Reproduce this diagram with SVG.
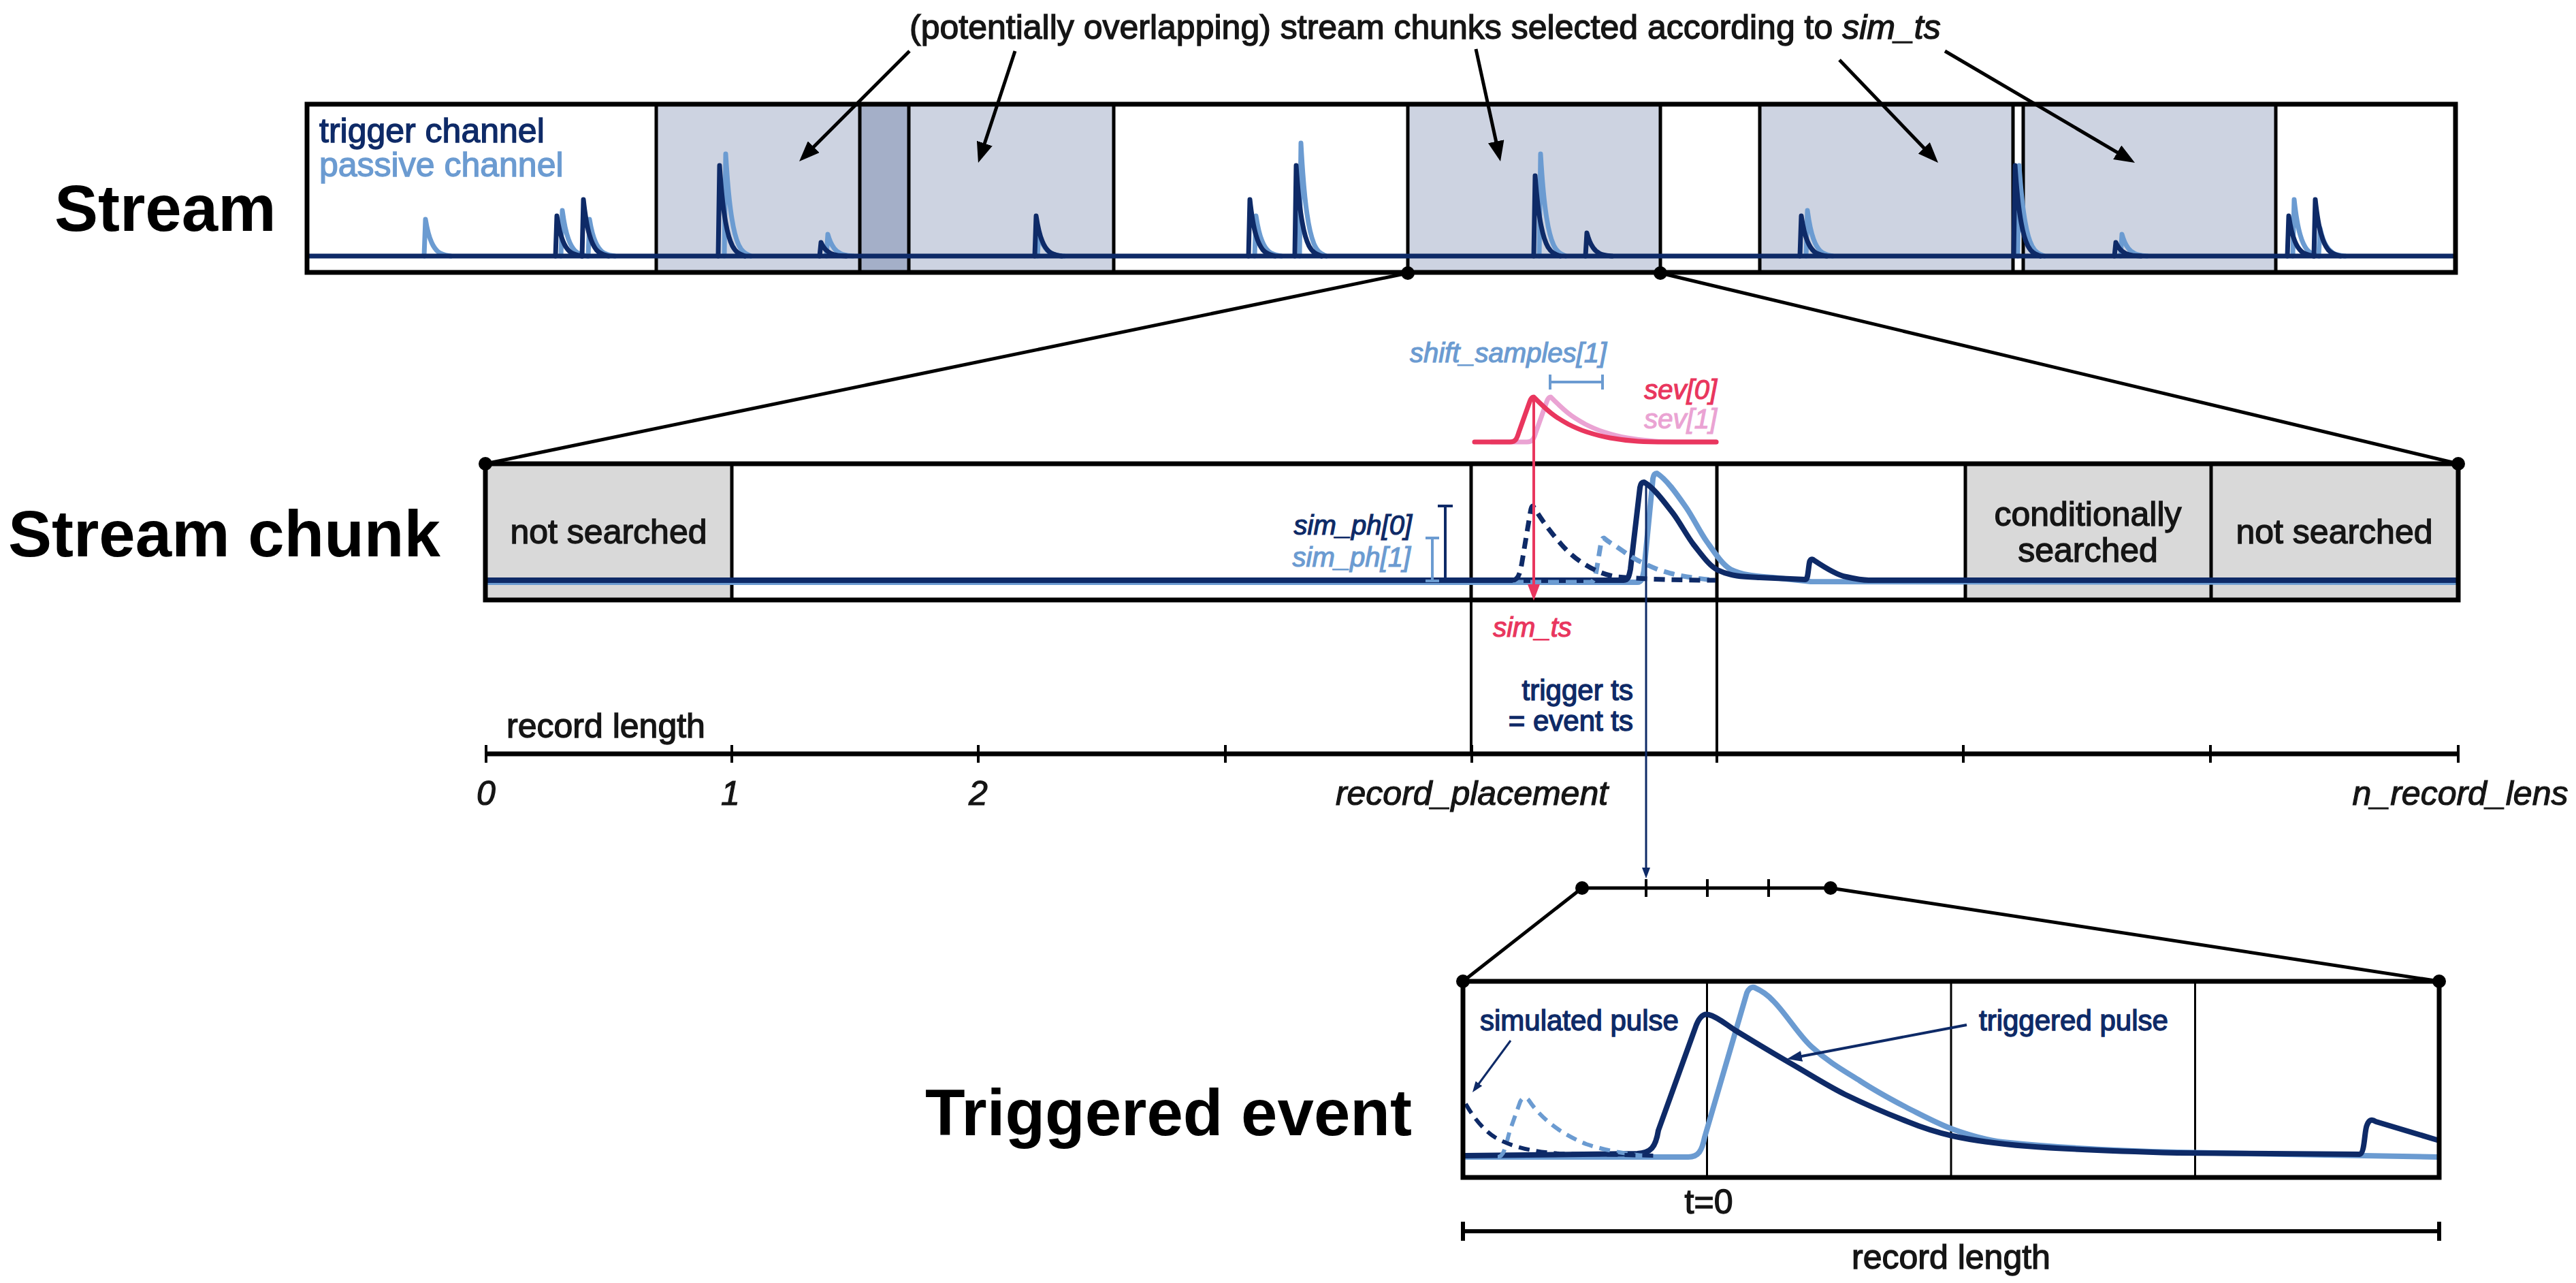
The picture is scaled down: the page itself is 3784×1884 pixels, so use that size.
<svg xmlns="http://www.w3.org/2000/svg" width="3784" height="1884" viewBox="0 0 3784 1884">
<style>
text{font-family:"Liberation Sans",Arial,Helvetica,sans-serif}
.ttl{font-size:96px;font-weight:bold;fill:#000}
.lbl{font-size:50px;fill:#151515;stroke:#151515;stroke-width:1.4px;paint-order:stroke}
.it{font-style:italic;font-size:40px;stroke-width:1.2px;paint-order:stroke}
.tl{font-size:50px}
.m42{font-size:42px}
.nv{fill:#0E2A67;stroke:#0E2A67}
.lbt{fill:#6B9BD1;stroke:#6B9BD1}
.rdt{fill:#E9365E;stroke:#E9365E}
.pkt{fill:#EAA3D3;stroke:#EAA3D3}
.box{fill:none;stroke:#000;stroke-width:7}
.dv{fill:none;stroke:#000;stroke-width:5}
.dv3{fill:none;stroke:#000;stroke-width:3}
.sig{fill:none;stroke-linejoin:round;stroke-linecap:round}
.sn{stroke:#0E2A67}
.sl{stroke:#6B9BD1}
.s7{stroke-width:7}
.s8{stroke-width:8}
.dash{stroke-dasharray:16 10;stroke-linecap:butt}
.con{stroke:#000;stroke-width:5;fill:none}
.dot{fill:#000}
.shade{fill:#CDD3E1}
.gray{fill:#D9D9D9}
</style>
<defs>
<marker id="ahK" markerUnits="userSpaceOnUse" markerWidth="30" markerHeight="24" refX="4" refY="12" orient="auto"><path d="M0,0 L30,12 L0,24 z" fill="#000"/></marker>
<marker id="ahR" markerUnits="userSpaceOnUse" markerWidth="24" markerHeight="18" refX="4" refY="9" orient="auto"><path d="M0,0 L24,9 L0,18 z" fill="#E9365E"/></marker>
<marker id="ahN" markerUnits="userSpaceOnUse" markerWidth="16" markerHeight="12" refX="3" refY="6" orient="auto"><path d="M0,0 L16,6 L0,12 z" fill="#0E2A67"/></marker>
<marker id="ahNL" markerUnits="userSpaceOnUse" markerWidth="22" markerHeight="16" refX="4" refY="8" orient="auto"><path d="M0,0 L22,8 L0,16 z" fill="#0E2A67"/></marker>
<path id="p166" d="M-3,0 L-1,-166 C2,-110.7 5,-81.3 8,-61.4 C11.5,-36.5 15,-25.7 18,-18.3 C24,-4.3 30,-3.3 36,0"/>
<path id="p150" d="M-3,0 L-1,-150 C2,-100 5,-73.5 8,-55.5 C11.5,-33 15,-23.3 18,-16.5 C24,-3.9 30,-3 36,0"/>
<path id="p133" d="M-3,0 L-1,-133 C2,-88.7 5,-65.2 8,-49.2 C11.5,-29.3 15,-20.6 18,-14.6 C24,-3.5 30,-2.7 36,0"/>
<path id="p118" d="M-3,0 L-1,-118 C2,-78.7 5,-57.8 8,-43.7 C11.5,-26 15,-18.3 18,-13 C24,-3.1 30,-2.4 36,0"/>
<path id="p83" d="M-3,0 L-1,-83 C2,-55.4 5,-40.7 8,-30.7 C11.5,-18.3 15,-12.9 18,-9.1 C24,-2.2 30,-1.7 36,0"/>
<path id="p67" d="M-3,0 L-1,-67 C2,-44.7 5,-32.8 8,-24.8 C11.5,-14.7 15,-10.4 18,-7.4 C24,-1.7 30,-1.3 36,0"/>
<path id="p59" d="M-3,0 L-1,-59 C2,-39.4 5,-28.9 8,-21.8 C11.5,-13 15,-9.1 18,-6.5 C24,-1.5 30,-1.2 36,0"/>
<path id="p54" d="M-3,0 L-1,-54 C2,-36 5,-26.5 8,-20 C11.5,-11.9 15,-8.4 18,-5.9 C24,-1.4 30,-1.1 36,0"/>
<path id="p41" d="M-3,0 L-1,-41 C2,-27.3 5,-20.1 8,-15.2 C11.5,-9 15,-6.4 18,-4.5 C24,-1.1 30,-0.8 36,0"/>
<path id="p34" d="M-3,0 L-1,-34 C2,-22.7 5,-16.7 8,-12.6 C11.5,-7.5 15,-5.3 18,-3.7 C24,-0.9 30,-0.7 36,0"/>
<path id="p32" d="M-3,0 L-1,-32 C2,-21.3 5,-15.7 8,-11.8 C11.5,-7 15,-5 18,-3.5 C24,-0.8 30,-0.6 36,0"/>
<path id="p20" d="M-3,0 L-1,-20 C2,-13.3 5,-9.8 8,-7.4 C11.5,-4.4 15,-3.1 18,-2.2 C24,-0.5 30,-0.4 36,0"/>
</defs>
<rect width="3784" height="1884" fill="#fff"/>

<g id="titles">
<text class="ttl" x="80" y="339">Stream</text>
<text class="ttl" x="12" y="817">Stream chunk</text>
<text class="ttl" x="1359" y="1667">Triggered event</text>
<text class="lbl" x="1336" y="57">(potentially overlapping) stream chunks selected according to <tspan font-style="italic">sim_ts</tspan></text>
</g>

<g id="stream">
<rect class="shade" x="964" y="153" width="299" height="247"/>
<rect x="1263" y="153" width="72" height="247" fill="#A4AFC8"/>
<rect class="shade" x="1335" y="153" width="301" height="247"/>
<rect class="shade" x="2068" y="153" width="371" height="247"/>
<rect class="shade" x="2585" y="153" width="372" height="247"/>
<rect class="shade" x="2972" y="153" width="371" height="247"/>
<path class="dv" d="M964 153V400M1263 153V400M1335 153V400M1636 153V400M2068 153V400M2439 153V400M2585 153V400M2957 153V400M2972 153V400M3343 153V400"/>
<g class="sig sl s7">
<use href="#p54" x="626" y="376"/><use href="#p67" x="827" y="376"/><use href="#p54" x="867" y="376"/>
<use href="#p150" x="1067" y="376"/><use href="#p32" x="1217" y="376"/><use href="#p34" x="1527" y="376"/>
<use href="#p59" x="1846" y="376"/><use href="#p166" x="1912" y="376"/><use href="#p150" x="2264" y="376"/>
<use href="#p67" x="2656" y="376"/><use href="#p133" x="2967" y="376"/><use href="#p32" x="3118" y="376"/>
<use href="#p83" x="3371" y="376"/><use href="#p41" x="3409" y="376"/>
</g>
<path class="sig sn s7" d="M454 376H3603"/>
<g class="sig sn s7">
<use href="#p59" x="819" y="376"/><use href="#p83" x="858" y="376"/><use href="#p133" x="1058" y="376"/>
<use href="#p20" x="1207" y="376"/><use href="#p59" x="1523" y="376"/><use href="#p83" x="1837" y="376"/>
<use href="#p133" x="1905" y="376"/><use href="#p118" x="2256" y="376"/><use href="#p34" x="2332" y="376"/>
<use href="#p59" x="2647" y="376"/><use href="#p133" x="2961" y="376"/><use href="#p20" x="3109" y="376"/>
<use href="#p59" x="3363" y="376"/><use href="#p83" x="3402" y="376"/>
</g>
<rect class="box" x="451" y="153" width="3156" height="247"/>
<text class="lbl nv" x="469" y="209">trigger channel</text>
<text class="lbl lbt" x="469" y="259">passive channel</text>
</g>

<g id="sev">
<path class="sig s7" stroke="#EAA3D3" d="M2191,649 L2243,649 C2251,649 2253,645 2256,635 L2272,590 C2274,584 2276,583 2278,583 C2287,592 2295,600 2304,607 C2312,613.5 2321,618.6 2329,623 C2338,627.6 2346,631.1 2355,634 C2367,637.9 2378,640.9 2390,643 C2404,645.5 2417,647 2431,648 C2446,649 2460,649 2475,649 L2521,649"/>
<path class="sig s7" stroke="#E9365E" d="M2166,649 L2218,649 C2226,649 2228,645 2231,635 L2247,590 C2249,584 2251,583 2253,583 C2262,592 2270,600 2279,607 C2287,613.5 2296,618.6 2304,623 C2313,627.6 2321,631.1 2330,634 C2342,637.9 2353,640.9 2365,643 C2379,645.5 2392,647 2406,648 C2421,649 2435,649 2450,649 L2521,649"/>
<path fill="none" stroke="#6B9BD1" stroke-width="4" d="M2277 561H2354M2277 550V572M2354 550V572"/>
<text class="it lbt" x="2360" y="532" text-anchor="end">shift_samples[1]</text>
<text class="it rdt" x="2522" y="586" text-anchor="end">sev[0]</text>
<text class="it pkt" x="2522" y="629" text-anchor="end">sev[1]</text>
</g>

<g id="stream-chunk">
<rect class="gray" x="713" y="681" width="362" height="200"/>
<rect class="gray" x="2887" y="681" width="724" height="200"/>
<path class="dv" d="M1075 681V881M2161 681V881M2522 681V881M2887 681V881M3248 681V881"/>
<text class="lbl" x="894" y="798" text-anchor="middle">not searched</text>
<text class="lbl" x="3067" y="772" text-anchor="middle">conditionally</text>
<text class="lbl" x="3067" y="825" text-anchor="middle">searched</text>
<text class="lbl" x="3429" y="798" text-anchor="middle">not searched</text>
<path class="sig sl s8" d="M716 855 L2405 855 C2412 855 2413 848 2415 837 L2428 703 C2429 697 2431 695 2434 695 C2448 704 2462 724 2476 744 C2486 758 2497 781 2507 795 C2519 812 2530 829 2542 836 C2563 846 2583 846 2604 848 L2660 854 L3607 855"/>
<path class="sig sn s8" d="M716 852 L2385 852 C2392 852 2393 846 2395 836 L2409 716 C2410 710 2412 708 2415 708 C2429 716 2443 735 2457 753 C2467 766 2478 787 2488 800 C2500 815 2511 831 2523 837 C2544 847 2564 847 2585 848 L2652 851 C2656 851 2656 836 2658 826 C2659 821 2662 820 2665 823 C2680 833 2700 845 2712 847 C2725 850 2735 852 2745 852 L3607 852"/>
<path class="sig sl s7 dash" d="M2222 855 L2336 855 C2341 855 2343 848 2345 838 L2352 796 C2353 792 2354 790 2356 790 C2362 795 2368 799 2375 803 C2385 810 2396 818 2406 823 C2416 828 2427 833 2437 837 C2451 841 2464 845 2478 847 C2492 849 2505 851 2520 852"/>
<path class="sig sn s7 dash" d="M2222 852 C2229 852 2232 845 2235 830 L2248 752 C2249 746 2250 743 2252 743 C2266 766 2280 784 2294 800 C2306 813.5 2318 823 2330 830 C2345 839 2360 845 2375 847 C2420 851 2470 852 2520 852"/>
<path fill="none" stroke="#0E2A67" stroke-width="4" d="M2123 743V852M2112 743H2134"/>
<path fill="none" stroke="#6B9BD1" stroke-width="4" d="M2104 790V854M2094 790H2114M2094 853H2114"/>
<text class="it nv" x="2074" y="785" text-anchor="end">sim_ph[0]</text>
<text class="it lbt" x="2072" y="832" text-anchor="end">sim_ph[1]</text>
<rect class="box" x="713" y="681" width="2898" height="200"/>
<text class="it rdt" x="2251" y="935" text-anchor="middle">sim_ts</text>
<text class="lbl m42 nv" x="2399" y="1028" text-anchor="end">trigger ts</text>
<text class="lbl m42 nv" x="2399" y="1073" text-anchor="end">= event ts</text>
</g>

<g id="timeline">
<path fill="none" stroke="#000" stroke-width="4" d="M2161 881V1107M2522 881V1107"/>
<path fill="none" stroke="#000" stroke-width="7" d="M714 1107H3611"/>
<path fill="none" stroke="#000" stroke-width="4" d="M714 1094V1120M1075 1094V1120M1437 1094V1120M1800 1094V1120M2162 1094V1120M2522 1094V1120M2884 1094V1120M3247 1094V1120M3611 1094V1120"/>
<text class="lbl" x="890" y="1083" text-anchor="middle">record length</text>
<text class="lbl it tl" x="714" y="1182" text-anchor="middle">0</text>
<text class="lbl it tl" x="1073" y="1182" text-anchor="middle">1</text>
<text class="lbl it tl" x="1437" y="1182" text-anchor="middle">2</text>
<text class="lbl it tl" x="2162" y="1182" text-anchor="middle">record_placement</text>
<text class="lbl it tl" x="3614" y="1182" text-anchor="middle">n_record_lens</text>
<path fill="none" stroke="#000" stroke-width="5" d="M2324 1304H2689"/>
<path fill="none" stroke="#000" stroke-width="4" d="M2418 1291V1317M2508 1291V1317M2598 1291V1317"/>
</g>

<g id="triggered-event">
<path class="dv3" d="M2507.5 1441V1729M2866 1441V1729M3224.5 1441V1729"/>
<path class="sig sl s8" d="M2153 1699 L2480 1699 C2495 1699 2500 1690 2504 1670 L2566 1458 C2569 1451 2573 1449 2577 1450 C2586 1454 2596 1460 2605 1470 C2624 1489 2642 1520 2661 1537 C2685 1559 2708 1572 2732 1587 C2755 1602 2779 1615 2802 1627 C2824 1638 2846 1650 2868 1658 C2893 1667 2917 1674 2942 1677 C3028 1686 3114 1690 3200 1692 L3580 1699"/>
<path class="sig sn s8" d="M2153 1697 L2405 1694 C2425 1693 2432 1685 2436 1660 L2490 1510 C2496 1492 2503 1488 2510 1490 C2523 1493 2536 1505 2549 1513 C2577 1530 2605 1547 2633 1563 C2659 1578 2684 1594 2710 1607 C2741 1622 2771 1635 2802 1647 C2824 1656 2846 1663 2868 1668 C2904 1676 2941 1680 2977 1683 C3051 1689 3126 1691 3200 1693 L3466 1695 C3474 1694 3473 1660 3477 1652 C3480 1644 3484 1643 3490 1647 L3580 1674"/>
<path class="sig sl dash" stroke-width="6" d="M2200 1699 C2210 1699 2212 1680 2218 1660 L2233 1618 C2236 1611 2242 1610 2246 1616 C2262 1640 2290 1664 2330 1680 C2360 1690 2395 1696 2430 1698"/>
<path class="sig sn dash" stroke-width="6" d="M2153 1621 C2165 1642 2180 1660 2196 1670 C2220 1684 2250 1691 2290 1694 L2430 1697"/>
<rect class="box" x="2149" y="1441" width="1434" height="288"/>
<text class="lbl m42 nv" x="2174" y="1513">simulated pulse</text>
<text class="lbl m42 nv" x="2907" y="1513">triggered pulse</text>
<text class="lbl" x="2510" y="1782" text-anchor="middle">t=0</text>
<path fill="none" stroke="#000" stroke-width="6" d="M2149 1808H3583M2149 1794V1822M3583 1794V1822"/>
<text class="lbl" x="2866" y="1863" text-anchor="middle">record length</text>
</g>

<g id="connectors">
<g class="con" marker-end="url(#ahK)">
<path d="M1336 75L1192.4 218.6"/>
<path d="M1491 75L1445.1 214.3"/>
<path d="M2168 72L2198.5 211.6"/>
<path d="M2702 88L2829 220.2"/>
<path d="M2857 75L3113.6 225.8"/>
</g>
<path class="con" d="M2068 401L713 681M2439 401L3611 681"/>
<path class="con" d="M2324 1304L2149 1441M2689 1304L3583 1441"/>
<path fill="none" stroke="#E9365E" stroke-width="4" d="M2253 583V862" marker-end="url(#ahR)"/>
<path fill="none" stroke="#0E2A67" stroke-width="3" d="M2418 708V1277" marker-end="url(#ahN)"/>
<path fill="none" stroke="#0E2A67" stroke-width="3" d="M2219 1528L2170.7 1593.5" marker-end="url(#ahN)"/>
<path fill="none" stroke="#0E2A67" stroke-width="4" d="M2889 1505L2642.7 1551.7" marker-end="url(#ahNL)"/>
<circle class="dot" cx="2068" cy="401" r="10"/><circle class="dot" cx="2439" cy="401" r="10"/>
<circle class="dot" cx="713" cy="681" r="10"/><circle class="dot" cx="3611" cy="681" r="10"/>
<circle class="dot" cx="2324" cy="1304" r="10"/><circle class="dot" cx="2689" cy="1304" r="10"/>
<circle class="dot" cx="2149" cy="1441" r="10"/><circle class="dot" cx="3583" cy="1441" r="10"/>
</g>
</svg>
